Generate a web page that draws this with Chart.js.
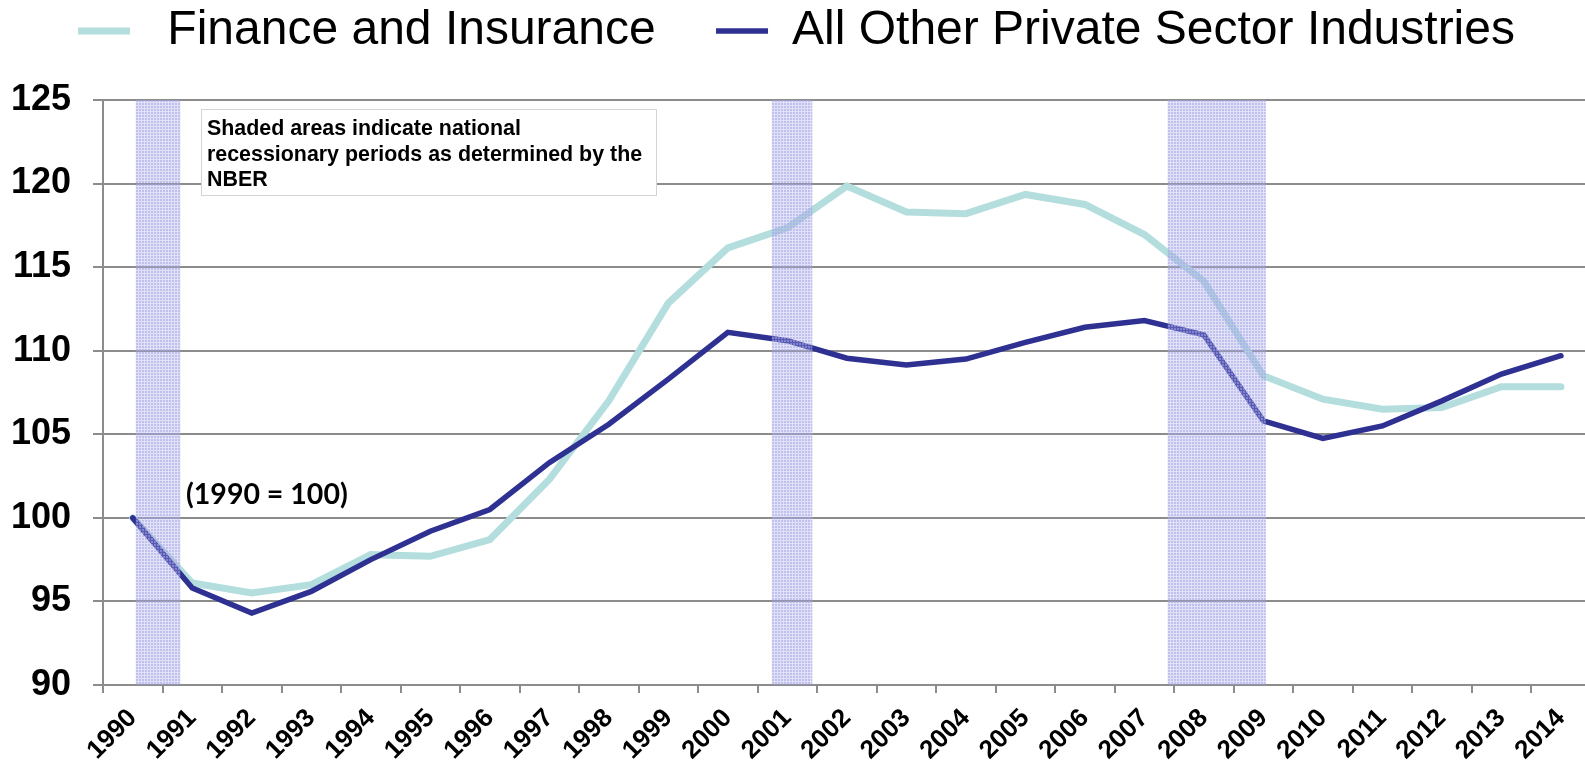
<!DOCTYPE html>
<html>
<head>
<meta charset="utf-8">
<title>Finance and Insurance vs All Other Private Sector Industries</title>
<script src="https://cdn.jsdelivr.net/npm/chart.js@4.4.1/dist/chart.umd.min.js"></script>
<style>
  html, body { margin: 0; padding: 0; background: #fff; overflow: hidden; }
  /* plot runs a few px past the right edge of the window, like the original */
  .chart-box { width: 1593px; height: 763px; }
</style>
</head>
<body>
<div class="chart-box"><canvas id="myChart"></canvas></div>
<script>
const years = ['1990', '1991', '1992', '1993', '1994', '1995', '1996', '1997', '1998', '1999', '2000', '2001',
  '2002', '2003', '2004', '2005', '2006', '2007', '2008', '2009', '2010', '2011', '2012', '2013', '2014'];

const financeValues = [100, 96.1, 95.5, 96.0, 97.8, 97.7, 98.7, 102.3, 107.0, 112.85, 116.15, 117.35,
  119.85, 118.3, 118.2, 119.35, 118.75, 116.95, 114.15, 108.5, 107.1, 106.5, 106.6, 107.85, 107.85];

const otherValues = [100, 95.8, 94.3, 95.6, 97.5, 99.2, 100.5, 103.3, 105.6, 108.3, 111.1, 110.6,
  109.55, 109.15, 109.5, 110.5, 111.4, 111.8, 110.95, 105.8, 104.75, 105.5, 107.0, 108.6, 109.7];

const yTicks = [90, 95, 100, 105, 110, 115, 120, 125];

// NBER recessions as decimal years (annual points sit at mid-year)
const recessions = [[1990.55, 1991.30], [2001.24, 2001.92], [2007.89, 2009.54]];

const seriesNames = ['Finance and Insurance', 'All Other Private Sector Industries'];
const noteLines = ['Shaded areas indicate national', 'recessionary periods as determined by the', 'NBER'];
const baseNote = '(1990 = 100)';

const gridGray = '#8c8c8c';

// dotted fill used for the recession bands
function makeBandPattern(ctx) {
  const tile = document.createElement('canvas');
  tile.width = 3;
  tile.height = 3;
  const t = tile.getContext('2d');
  t.fillStyle = 'rgba(165, 165, 232, 0.35)';
  t.fillRect(0, 0, 3, 3);
  t.fillStyle = 'rgba(165, 165, 232, 0.55)';
  t.fillRect(1, 1, 2, 2);
  return ctx.createPattern(tile, 'repeat');
}

const notesPlugin = {
  id: 'notes',
  beforeInit(chart) {
    // pin the legend band height so the plot starts where the original does
    const originalFit = chart.legend.fit;
    chart.legend.fit = function fit() {
      originalFit.bind(chart.legend)();
      this.height = 100;
    };
  },
  afterDatasetsDraw(chart) {
    const { ctx, chartArea, scales } = chart;
    const x = scales.x;

    // recession bands, drawn over the lines
    ctx.save();
    ctx.beginPath();
    ctx.rect(chartArea.left, chartArea.top, chartArea.right - chartArea.left, chartArea.bottom - chartArea.top);
    ctx.clip();
    ctx.fillStyle = makeBandPattern(ctx);
    recessions.forEach(r => {
      const x1 = x.getPixelForValue(r[0] - 1990.5);
      const x2 = x.getPixelForValue(r[1] - 1990.5);
      ctx.fillRect(x1, chartArea.top, x2 - x1, chartArea.bottom - chartArea.top);
    });
    ctx.restore();

    // note box
    const bx = chartArea.left + 98;
    const by = chartArea.top + 9;
    ctx.save();
    ctx.fillStyle = '#ffffff';
    ctx.fillRect(bx, by, 455, 86);
    ctx.strokeStyle = '#d4d4d4';
    ctx.lineWidth = 1;
    ctx.strokeRect(bx + 0.5, by + 0.5, 455, 86);
    ctx.fillStyle = '#000';
    ctx.font = 'bold 21.4px "Liberation Sans", Arial, sans-serif';
    ctx.textBaseline = 'alphabetic';
    noteLines.forEach((line, i) => {
      ctx.fillText(line, bx + 6, by + 26 + i * 25.6);
    });

    ctx.font = 'bold 28.5px Lato, "Noto Sans", sans-serif';
    ctx.fillText(baseNote, chartArea.left + 83, chartArea.top + 404);
    ctx.restore();
  }
};

const ctx = document.getElementById('myChart').getContext('2d');

new Chart(ctx, {
  type: 'line',
  data: {
    labels: years,
    datasets: [
      {
        label: seriesNames[0],
        data: financeValues,
        borderColor: '#b4dede',
        backgroundColor: '#b4dede',
        borderWidth: 7,
        borderCapStyle: 'round',
        borderJoinStyle: 'miter',
        pointRadius: 0,
        tension: 0,
        order: 2
      },
      {
        label: seriesNames[1],
        data: otherValues,
        borderColor: '#2e3192',
        backgroundColor: '#2e3192',
        borderWidth: 5.5,
        borderCapStyle: 'round',
        borderJoinStyle: 'miter',
        pointRadius: 0,
        tension: 0,
        order: 1
      }
    ]
  },
  options: {
    responsive: true,
    maintainAspectRatio: false,
    animation: false,
    layout: { padding: 0 },
    plugins: {
      tooltip: { enabled: false },
      legend: {
        position: 'top',
        align: 'center',
        labels: {
          usePointStyle: true,
          pointStyle: 'line',
          pointStyleWidth: 52,
          boxWidth: 52,
          padding: 7,
          color: '#000',
          font: { family: '"Liberation Sans", Arial, sans-serif', size: 48 },
          sort: (a, b) => a.datasetIndex - b.datasetIndex,
          generateLabels(chart) {
            const items = Chart.defaults.plugins.legend.labels.generateLabels(chart);
            // extra room around the finance entry, as in the original legend
            const first = items.find(item => item.datasetIndex === 0);
            if (first) first.text = ' ' + first.text + '    ';
            return items;
          }
        }
      }
    },
    scales: {
      x: {
        offset: true,
        grid: {
          offset: true,
          drawOnChartArea: false,
          color: gridGray,
          lineWidth: 2,
          tickLength: 8
        },
        border: { color: gridGray, width: 2 },
        ticks: {
          autoSkip: false,
          minRotation: 45,
          maxRotation: 45,
          padding: 10,
          color: '#000',
          font: { family: '"Liberation Sans", Arial, sans-serif', size: 26, weight: 'bold' }
        },
        afterFit(scale) {
          scale.height = 78;
        }
      },
      y: {
        min: 90,
        max: 125,
        afterBuildTicks(scale) {
          scale.ticks = yTicks.map(v => ({ value: v }));
        },
        grid: {
          color: gridGray,
          lineWidth: 2,
          tickLength: 10
        },
        border: { color: gridGray, width: 2 },
        ticks: {
          padding: 22,
          color: '#000',
          font: { family: '"Liberation Sans", Arial, sans-serif', size: 36, weight: 'bold' }
        },
        afterFit(scale) {
          scale.width = 103;
        }
      }
    }
  },
  plugins: [notesPlugin]
});
</script>
</body>
</html>
